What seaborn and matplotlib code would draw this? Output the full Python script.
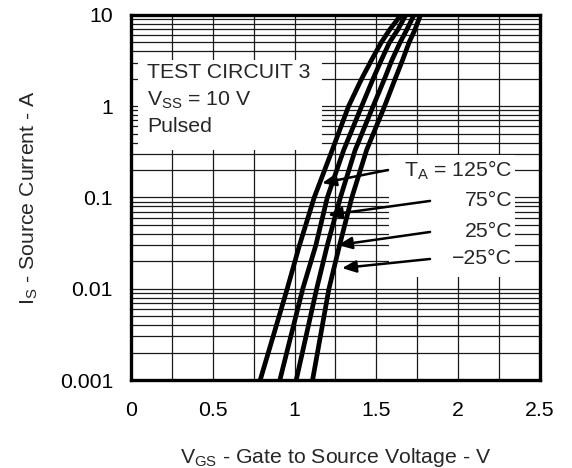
import numpy as np
import pandas as pd
import matplotlib
matplotlib.use("Agg")
import matplotlib.pyplot as plt
import seaborn as sns
from matplotlib.patches import Rectangle

is_levels = [0.001, 0.01, 0.03, 0.1, 0.33, 1.0, 2.0, 3.2, 5.0, 6.85, 10.0]

# Gate-to-source voltage (V) per temperature at those levels
vgs_125 = [0.79, 0.955, 1.03, 1.12, 1.23, 1.33, 1.41, 1.47, 1.53, 1.58, 1.65]
vgs_75 = [0.91, 1.05, 1.13, 1.20, 1.30, 1.41, 1.48, 1.53, 1.58, 1.63, 1.68]
vgs_25 = [1.01, 1.135, 1.20, 1.28, 1.37, 1.48, 1.55, 1.595, 1.645, 1.685, 1.73]
vgs_m25 = [1.11, 1.21, 1.275, 1.35, 1.44, 1.55, 1.615, 1.66, 1.70, 1.735, 1.77]

temps = ["125", "75", "25", "-25"]
curve_labels = ["T$_{\\mathrm{A}}$ = 125°C", "75°C", "25°C", "\u221225°C"]

# label text anchor (x, y) and arrow tail / tip (x, y) in data units
label_pos = [(2.33, 0.200), (2.33, 0.0917), (2.33, 0.0419), (2.33, 0.0212)]
arrow_tail = [(1.571, 0.200), (1.828, 0.0917), (1.828, 0.0419), (1.828, 0.0212)]
arrow_tip = [(1.168, 0.144), (1.204, 0.0643), (1.265, 0.0301), (1.290, 0.01686)]

info_lines = ["TEST CIRCUIT 3", "V$_{\\mathrm{SS}}$ = 10 V", "Pulsed"]
info_y = [2.37, 1.17, 0.593]

x_ticks = [0, 0.5, 1, 1.5, 2, 2.5]
x_tick_labels = ["0", "0.5", "1", "1.5", "2", "2.5"]
y_ticks = [0.001, 0.01, 0.1, 1, 10]
y_tick_labels = ["0.001", "0.01", "0.1", "1", "10"]

FS = 15.3

sns.set_theme(style="white")
plt.rcParams["font.family"] = ["Liberation Sans", "DejaVu Sans"]
plt.rcParams["mathtext.fontset"] = "custom"
plt.rcParams["mathtext.rm"] = "Liberation Sans"
plt.rcParams["mathtext.it"] = "Liberation Sans"

frames = []
for t, v in zip(temps, [vgs_125, vgs_75, vgs_25, vgs_m25]):
    frames.append(pd.DataFrame({"vgs": v, "is": is_levels, "temp": t}))
df = pd.concat(frames, ignore_index=True)

fig = plt.figure(figsize=(5.72, 4.68), dpi=100)
ax = fig.add_axes([0.229, 0.188, 0.715, 0.780])
ax.set_yscale("log")
ax.set_xlim(0, 2.5)
ax.set_ylim(0.001, 10)

# grid: 0.25 V verticals, 1-2-...-9 horizontals
ax.set_xticks(x_ticks)
ax.set_xticklabels(x_tick_labels)
ax.set_xticks(np.arange(0.25, 2.5, 0.5), minor=True)
ax.set_yticks(y_ticks)
ax.set_yticklabels(y_tick_labels)
ax.yaxis.set_minor_locator(matplotlib.ticker.LogLocator(base=10, subs=np.arange(2, 10)))
ax.yaxis.set_minor_formatter(matplotlib.ticker.NullFormatter())
ax.grid(which="both", color="#1a1a1a", lw=0.9, zorder=0)
ax.set_axisbelow(True)
ax.tick_params(which="both", length=0, labelsize=FS, colors="black")
ax.tick_params(axis="x", pad=15)
ax.tick_params(axis="y", pad=13)

for s in ax.spines.values():
    s.set_color("black")
    s.set_linewidth(2.4)
    s.set_zorder(6)

# white boxes behind the annotations
ax.add_patch(Rectangle((0.043, 0.33), 1.124, 3.2 - 0.33, facecolor="white",
                       edgecolor="none", zorder=1))
ax.add_patch(Rectangle((1.58, 0.01345), 0.77, 0.292 - 0.01345, facecolor="white",
                       edgecolor="none", zorder=1))

sns.lineplot(data=df, x="vgs", y="is", hue="temp", palette=["black"] * 4,
             sort=False, estimator=None, legend=False, lw=3.4, ax=ax, zorder=4)

for txt, yy in zip(info_lines, info_y):
    ax.text(0.098, yy, txt, fontsize=FS, va="center", ha="left", zorder=5)

for lab, lp, tail, tip in zip(curve_labels, label_pos, arrow_tail, arrow_tip):
    ax.text(lp[0], lp[1], lab, fontsize=FS, ha="right", va="center", zorder=5)
    ax.annotate("", xy=tip, xytext=tail, zorder=5,
                arrowprops=dict(arrowstyle="-|>,head_length=0.7,head_width=0.3",
                                color="black", lw=1.8, shrinkA=0, shrinkB=0))

ax.set_xlabel("V$_{\\mathrm{GS}}$ - Gate to Source Voltage - V", fontsize=FS, labelpad=19)
ax.set_ylabel("I$_{\\mathrm{S}}$ - Source Current - A", fontsize=FS, labelpad=14)

fig.savefig("out.png", dpi=100)
